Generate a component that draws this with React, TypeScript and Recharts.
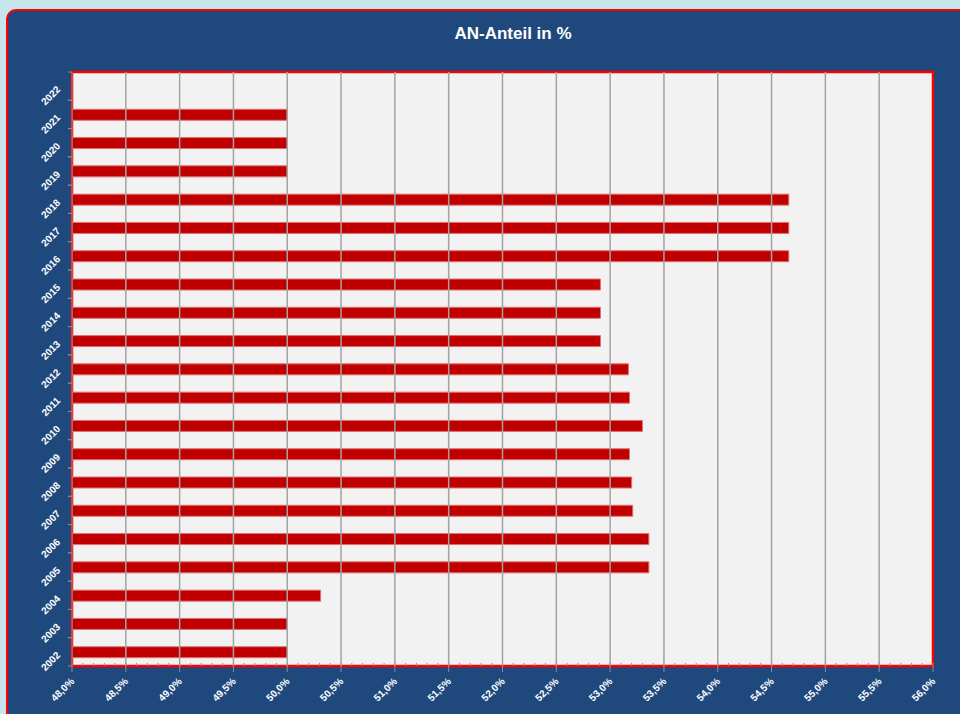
import React from 'react';
import { BarChart, Bar, XAxis, YAxis, ReferenceLine, ReferenceArea, CartesianGrid } from 'recharts';

const years = ['2002', '2003', '2004', '2005', '2006', '2007', '2008', '2009', '2010', '2011', '2012', '2013', '2014', '2015', '2016', '2017', '2018', '2019', '2020', '2021', '2022'];
const anteil: (number | null)[] = [50.0, 50.0, 50.31, 53.36, 53.36, 53.21, 53.2, 53.18, 53.3, 53.18, 53.17, 52.91, 52.91, 52.91, 54.66, 54.66, 54.66, 50.0, 50.0, 50.0, null];
const majorTicks = [48, 48.5, 49, 49.5, 50, 50.5, 51, 51.5, 52, 52.5, 53, 53.5, 54, 54.5, 55, 55.5, 56];
const tickLabels = ['48,0%', '48,5%', '49,0%', '49,5%', '50,0%', '50,5%', '51,0%', '51,5%', '52,0%', '52,5%', '53,0%', '53,5%', '54,0%', '54,5%', '55,0%', '55,5%', '56,0%'];
const title = 'AN-Anteil in %';

const data = years.map((y, i) => ({ year: y, value: anteil[i] }));
const minorTicks = majorTicks.slice(0, -1).flatMap((v) => [1, 2, 3, 4].map((k) => +(v + k * 0.1).toFixed(1)));
const allTicks = [...majorTicks, ...minorTicks].sort((a, b) => a - b);

const W = 960;
const H = 714;
const X_AXIS_H = 48;
const Y_AXIS_W = 72;
const M = { top: 72, right: 27, bottom: 0, left: 0 };
const PLOT_H = H - M.top - X_AXIS_H;
const BAND = PLOT_H / years.length;
const FONT = '"Liberation Sans", Arial, sans-serif';

const XTick = (props: any) => {
  const { x, y, payload } = props;
  const v = payload.value;
  const idx = majorTicks.findIndex((m) => Math.abs(m - v) < 1e-6);
  if (idx < 0) {
    return <line x1={x} x2={x} y1={y - 3} y2={y} stroke="#8c8c8c" strokeWidth={1} />;
  }
  return (
    <g>
      <line x1={x} x2={x} y1={y - 3} y2={y + 6} stroke="#8c8c8c" strokeWidth={1} />
      <text
        x={x + 3}
        y={y + 16}
        transform={`rotate(-45 ${x + 3} ${y + 16})`}
        textAnchor="end"
        fill="#ffffff"
        fontSize={10}
        fontWeight="bold"
        fontFamily={FONT}
      >
        {tickLabels[idx]}
      </text>
    </g>
  );
};

const YTick = (props: any) => {
  const { x, y, payload } = props;
  return (
    <g>
      <line x1={x - 4} x2={x} y1={y - BAND / 2} y2={y - BAND / 2} stroke="#8c8c8c" strokeWidth={1} />
      <line x1={x - 4} x2={x} y1={y + BAND / 2} y2={y + BAND / 2} stroke="#8c8c8c" strokeWidth={1} />
      <text
        x={x - 11}
        y={y + 4}
        transform={`rotate(-45 ${x - 11} ${y + 4})`}
        textAnchor="end"
        fill="#ffffff"
        fontSize={10}
        fontWeight="bold"
        fontFamily={FONT}
      >
        {payload.value}
      </text>
    </g>
  );
};

export default function App() {
  return (
    <div
      style={{
        position: 'absolute',
        left: 0,
        top: 0,
        width: W,
        height: H,
        overflow: 'hidden',
        background: '#c6e4ec',
      }}
    >
      <div
        style={{
          position: 'absolute',
          left: 6,
          top: 9,
          width: 1100,
          height: 800,
          boxSizing: 'border-box',
          border: '2px solid #ff0000',
          borderRadius: 10,
          background: '#1f497d',
        }}
      />
      <div
        style={{
          position: 'absolute',
          left: 0,
          top: 24,
          width: 1026,
          textAlign: 'center',
          color: '#ffffff',
          fontFamily: FONT,
          fontWeight: 'bold',
          fontSize: 17,
        }}
      >
        {title}
      </div>
      <div style={{ position: 'absolute', left: 0, top: 0 }}>
        <BarChart width={W} height={H} data={data} layout="vertical" margin={M} barCategoryGap={0}>
          <CartesianGrid fill="#f2f2f2" horizontal={false} vertical={false} />
          {majorTicks.slice(1, -1).map((v) => (
            <ReferenceLine key={v} x={v} stroke="#a3a3a3" strokeWidth={1.5} />
          ))}
          <XAxis
            type="number"
            dataKey="value"
            domain={[48, 56]}
            ticks={allTicks}
            interval={0}
            allowDataOverflow
            tick={<XTick />}
            tickLine={false}
            tickSize={0}
            tickMargin={0}
            axisLine={false}
            height={X_AXIS_H}
          />
          <YAxis
            type="category"
            dataKey="year"
            reversed
            width={Y_AXIS_W}
            interval={0}
            tick={<YTick />}
            tickLine={false}
            tickSize={0}
            tickMargin={0}
            axisLine={{ stroke: '#8c8c8c', strokeWidth: 1 }}
          />
          <Bar dataKey="value" fill="#c00000" stroke="#e07070" strokeWidth={1} barSize={11} isAnimationActive={false} />
          <ReferenceArea x1={48} x2={56} fill="none" stroke="#ff0000" strokeWidth={2.5} ifOverflow="visible" />
        </BarChart>
      </div>
    </div>
  );
}
